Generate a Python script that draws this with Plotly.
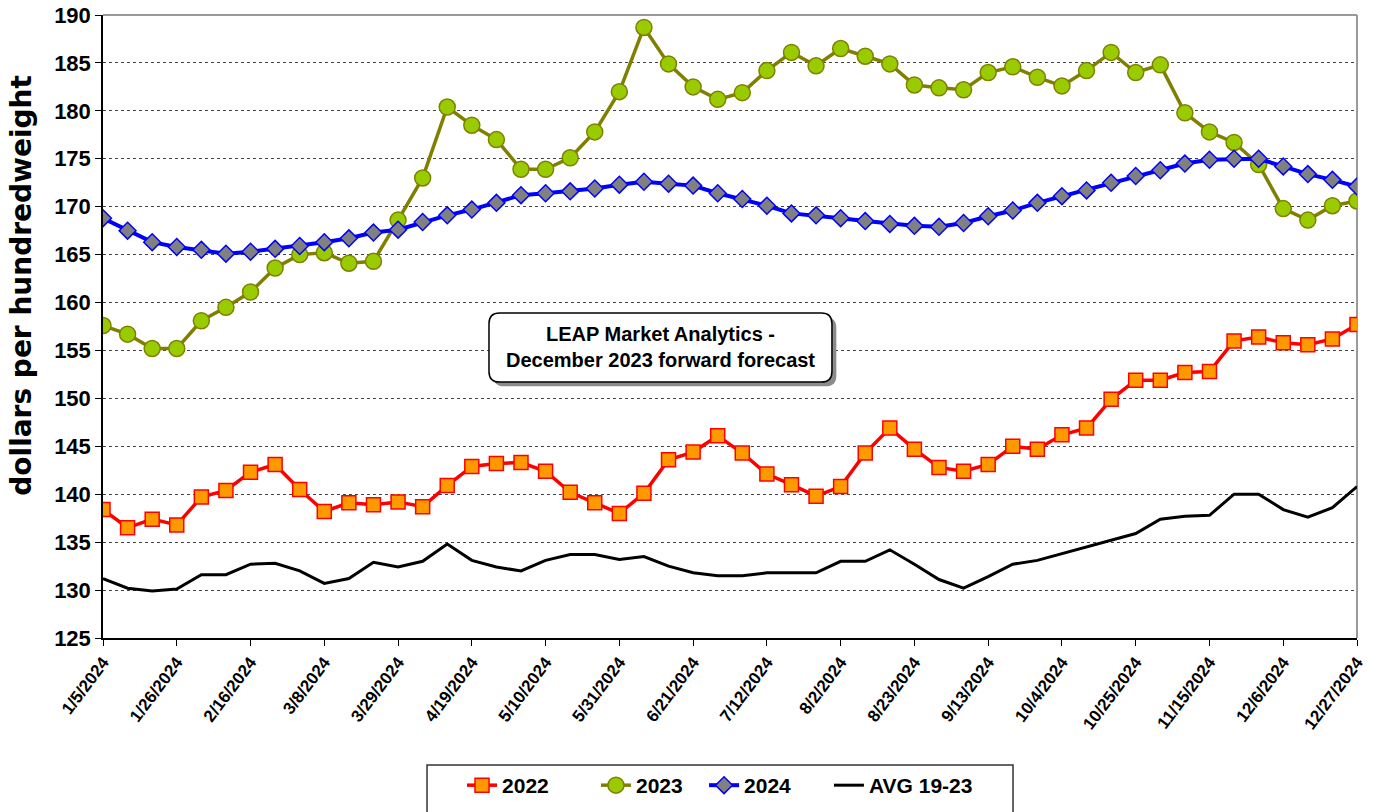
import plotly.graph_objects as go

# weekly Fridays, 2024
weeks = ['1/5/2024', '1/12/2024', '1/19/2024', '1/26/2024', '2/2/2024', '2/9/2024', '2/16/2024',
         '2/23/2024', '3/1/2024', '3/8/2024', '3/15/2024', '3/22/2024', '3/29/2024', '4/5/2024',
         '4/12/2024', '4/19/2024', '4/26/2024', '5/3/2024', '5/10/2024', '5/17/2024', '5/24/2024',
         '5/31/2024', '6/7/2024', '6/14/2024', '6/21/2024', '6/28/2024', '7/5/2024', '7/12/2024',
         '7/19/2024', '7/26/2024', '8/2/2024', '8/9/2024', '8/16/2024', '8/23/2024', '8/30/2024',
         '9/6/2024', '9/13/2024', '9/20/2024', '9/27/2024', '10/4/2024', '10/11/2024', '10/18/2024',
         '10/25/2024', '11/1/2024', '11/8/2024', '11/15/2024', '11/22/2024', '11/29/2024',
         '12/6/2024', '12/13/2024', '12/20/2024', '12/27/2024']

y2022 = [138.4, 136.5, 137.4, 136.8, 139.7, 140.4, 142.3, 143.1, 140.5, 138.2, 139.1, 138.9, 139.2,
         138.7, 140.9, 142.9, 143.2, 143.3, 142.4, 140.2, 139.1, 138.0, 140.1, 143.6, 144.4, 146.1,
         144.3, 142.1, 141.0, 139.8, 140.8, 144.3, 146.9, 144.7, 142.8, 142.4, 143.1, 145.0, 144.7,
         146.2, 146.9, 149.9, 151.9, 151.9, 152.7, 152.8, 156.0, 156.4, 155.8, 155.6, 156.2, 157.7]

y2023 = [157.6, 156.7, 155.2, 155.2, 158.1, 159.5, 161.1, 163.6, 165.0, 165.2, 164.1, 164.3, 168.6,
         173.0, 180.4, 178.5, 177.0, 173.9, 173.9, 175.1, 177.8, 182.0, 188.7, 184.9, 182.5, 181.2,
         181.9, 184.2, 186.1, 184.7, 186.5, 185.7, 184.9, 182.7, 182.4, 182.2, 184.0, 184.6, 183.5,
         182.6, 184.2, 186.1, 184.0, 184.8, 179.8, 177.8, 176.7, 174.4, 169.8, 168.6, 170.1, 170.6]

y2024 = [168.8, 167.5, 166.3, 165.8, 165.5, 165.1, 165.3, 165.6, 165.9, 166.3, 166.7, 167.3, 167.6,
         168.4, 169.1, 169.7, 170.4, 171.2, 171.4, 171.6, 171.9, 172.3, 172.6, 172.4, 172.2, 171.4,
         170.8, 170.1, 169.3, 169.1, 168.8, 168.5, 168.2, 168.0, 167.9, 168.3, 169.0, 169.6, 170.4,
         171.1, 171.7, 172.5, 173.2, 173.8, 174.5, 174.9, 175.0, 175.0, 174.2, 173.4, 172.8, 172.1]

avg_19_23 = [131.2, 130.2, 129.9, 130.1, 131.6, 131.6, 132.7, 132.8, 132.0, 130.7, 131.2, 132.9, 132.4,
             133.0, 134.8, 133.1, 132.4, 132.0, 133.1, 133.7, 133.7, 133.2, 133.5, 132.5, 131.8, 131.5,
             131.5, 131.8, 131.8, 131.8, 133.0, 133.0, 134.2, 132.7, 131.1, 130.2, 131.4, 132.7, 133.1,
             133.8, 134.5, 135.2, 135.9, 137.4, 137.7, 137.8, 140.0, 140.0, 138.4, 137.6, 138.6, 140.8]

tick_labels = weeks[::3]
y_ticks = list(range(125, 191, 5))

FONT = 'Liberation Sans, Arial, sans-serif'
legend_font = dict(family=FONT, size=21, color='black', weight='bold')

fig = go.Figure()

fig.add_trace(go.Scatter(x=weeks, y=y2022, name='2022', mode='lines+markers', legend='legend',
                         line=dict(color='#FF0000', width=3.5),
                         marker=dict(symbol='square', size=14, color='#FF9900',
                                     line=dict(color='#FF0000', width=1.5))))
fig.add_trace(go.Scatter(x=weeks, y=y2023, name='2023', mode='lines+markers', legend='legend2',
                         line=dict(color='#808000', width=3.5),
                         marker=dict(symbol='circle', size=16, color='#99CC00',
                                     line=dict(color='#808000', width=1.5))))
fig.add_trace(go.Scatter(x=weeks, y=y2024, name='2024', mode='lines+markers', legend='legend3',
                         line=dict(color='#0000FF', width=4),
                         marker=dict(symbol='diamond', size=13, color='#808080',
                                     line=dict(color='#0000FF', width=1.5))))
fig.add_trace(go.Scatter(x=weeks, y=avg_19_23, name='AVG 19-23', mode='lines', legend='legend4',
                         line=dict(color='#000000', width=3)))

# rounded box for the note, with a grey drop shadow (paper coords)
x0, x1, y0, y1 = 0.3078, 0.5813, 0.4109, 0.5217
rx, ry = 0.0085, 0.017


def rounded(xa, xb, ya, yb):
    return (f'M {xa+rx},{ya} L {xb-rx},{ya} Q {xb},{ya} {xb},{ya+ry} '
            f'L {xb},{yb-ry} Q {xb},{yb} {xb-rx},{yb} L {xa+rx},{yb} '
            f'Q {xa},{yb} {xa},{yb-ry} L {xa},{ya+ry} Q {xa},{ya} {xa+rx},{ya} Z')


dx, dy = 0.0035, -0.007
shapes = [
    dict(type='path', xref='paper', yref='paper', path=rounded(x0+dx, x1+dx, y0+dy, y1+dy),
         fillcolor='#8c8c8c', line=dict(width=0), layer='above'),
    dict(type='path', xref='paper', yref='paper', path=rounded(x0, x1, y0, y1),
         fillcolor='white', line=dict(color='black', width=1.5), layer='above'),
    # grey frame on top and right of plot area
    dict(type='line', xref='paper', yref='paper', x0=0, x1=1, y0=1, y1=1,
         line=dict(color='#9a9a9a', width=2), layer='below'),
    dict(type='line', xref='paper', yref='paper', x0=1, x1=1, y0=0, y1=1,
         line=dict(color='#9a9a9a', width=2), layer='below'),
    # legend frame
    dict(type='rect', xref='paper', yref='paper', x0=0.2584, x1=0.7257, y0=-0.32, y1=-0.2039,
         fillcolor='white', line=dict(color='#333333', width=1.5), layer='below'),
]

annotations = [
    dict(text='LEAP Market Analytics -<br>December 2023 forward forecast', xref='paper', yref='paper',
         x=(x0+x1)/2, y=(y0+y1)/2, showarrow=False, align='center',
         font=dict(family=FONT, size=20, color='black', weight='bold')),
    dict(text='dollars per hundredweight', xref='paper', yref='paper', x=-0.0646, y=0.567,
         textangle=-90, showarrow=False, xanchor='center', yanchor='middle',
         font=dict(family='DejaVu Sans, sans-serif', size=28, color='black', weight='bold')),
]


def leg(xpos):
    return dict(orientation='h', xanchor='left', x=xpos, yanchor='top', y=-0.2039,
                bgcolor='rgba(0,0,0,0)', borderwidth=0, font=legend_font)


fig.update_layout(
    width=1374, height=812, autosize=False,
    margin=dict(l=103, r=17, t=15, b=174, autoexpand=False),
    plot_bgcolor='white', paper_bgcolor='white',
    font=dict(family=FONT, color='black'),
    showlegend=True,
    legend=leg(0.2863), legend2=leg(0.3931), legend3=leg(0.4793), legend4=leg(0.5789),
    shapes=shapes,
    annotations=annotations,
    xaxis=dict(type='category', range=[0, 51], tickmode='array', tickvals=tick_labels,
               ticktext=tick_labels, tickangle=-53, showgrid=False, zeroline=False,
               showline=True, linecolor='black', linewidth=1.5, automargin=False,
               ticks='outside', ticklen=6, tickcolor='black', ticklabeloverflow='allow',
               tickfont=dict(family=FONT, size=17, color='black', weight='bold')),
    yaxis=dict(range=[125, 190], tickmode='array', tickvals=y_ticks, showgrid=True,
               gridcolor='#444444', griddash='dot', gridwidth=1, zeroline=False,
               showline=True, linecolor='black', linewidth=1.5, automargin=False,
               ticks='outside', ticklen=6, tickcolor='black', ticklabeloverflow='allow',
               tickfont=dict(family=FONT, size=22, color='black', weight='bold')),
)

# drop the default 8px page margin so the figure sits at the window's top-left corner
fig.write_html('out.html', config={'displayModeBar': False},
               post_script="document.body.style.margin='0';")
